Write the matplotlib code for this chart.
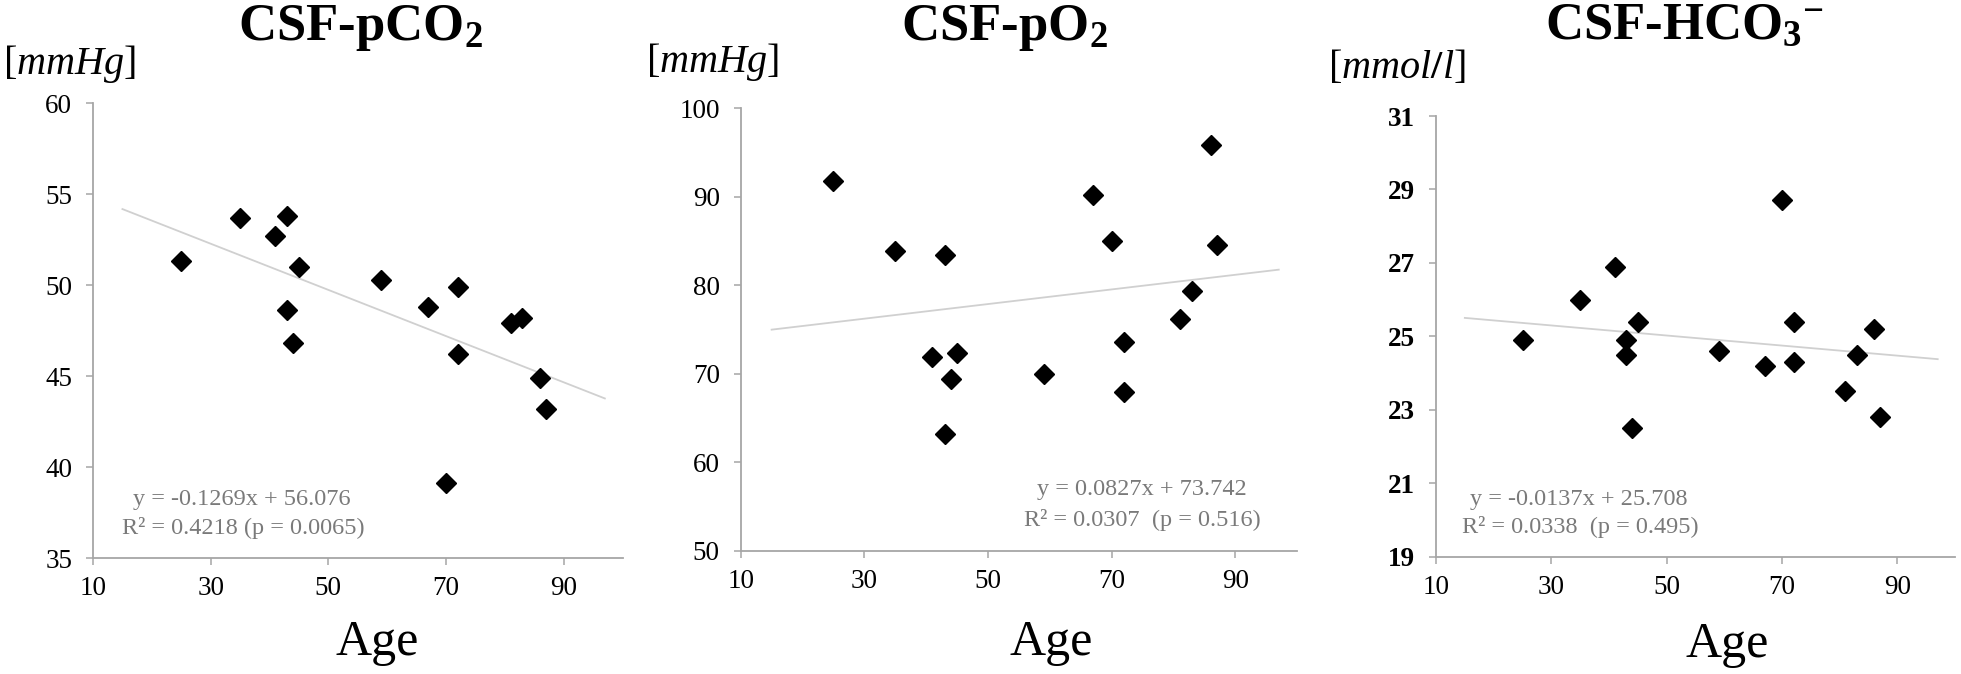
import matplotlib
matplotlib.use('Agg')
import matplotlib.pyplot as plt
import numpy as np

plt.rcParams['font.family'] = ['Liberation Serif', 'DejaVu Serif']
plt.rcParams['mathtext.fontset'] = 'custom'
plt.rcParams['mathtext.rm'] = 'Liberation Serif:bold'
plt.rcParams['mathtext.it'] = 'Liberation Serif:italic'
plt.rcParams['mathtext.bf'] = 'Liberation Serif:bold'

# ---------------- data ----------------
age = [25, 35, 41, 43, 43, 44, 45, 59, 67, 70, 72, 72, 81, 83, 86, 87]
pco2 = [51.3, 53.7, 52.7, 53.8, 48.6, 46.8, 51.0, 50.3, 48.8, 39.1, 49.9, 46.2, 47.9, 48.2, 44.9, 43.2]
po2 = [91.8, 83.9, 71.9, 83.4, 63.2, 69.4, 72.4, 70.0, 90.2, 85.0, 73.6, 67.9, 76.2, 79.4, 95.8, 84.6]
hco3 = [24.9, 26.0, 26.9, 24.9, 24.5, 22.5, 25.4, 24.6, 24.2, 28.7, 25.4, 24.3, 23.5, 24.5, 25.2, 22.8]

titles = ["CSF-pCO$_2$", "CSF-pO$_2$", "CSF-HCO$_3$$^{-}$"]
units = [r"[$\mathit{mmHg}$]", r"[$\mathit{mmHg}$]", r"[$\mathit{mmol/l}$]"]
slopes = [-0.1269, 0.0827, -0.0137]
intercepts = [56.076, 73.742, 25.708]
eq_text = ["y = -0.1269x + 56.076", "y = 0.0827x + 73.742", "y = -0.0137x + 25.708"]
r2_text = ["R\u00b2 = 0.4218 (p = 0.0065)", "R\u00b2 = 0.0307  (p = 0.516)", "R\u00b2 = 0.0338  (p = 0.495)"]
ylims = [(35, 60), (50, 100), (19, 31)]
ysteps = [5, 10, 2]
xticks = [10, 30, 50, 70, 90]
trend_x = [15, 97]

series = [pco2, po2, hco3]

# ---------------- layout ----------------
W, H = 1961, 674
fig = plt.figure(figsize=(W / 100, H / 100), dpi=100)

axes_px = [(93, 103, 622.5, 558), (740.7, 108.3, 1297.3, 550.7), (1436, 116, 1955, 556.7)]
title_px = [(360, 28), (1004, 28), (1685, 26)]
unit_px = [(70, 64), (713, 62), (1397, 68)]
age_px = [(377, 643), (1051, 643), (1727, 645)]
eq_px = [(242, 499), (1142, 490), (1579, 499)]
r2_px = [(243, 528), (1142, 520), (1580, 527)]

spine_c = '#a6a6a6'
txt_c = '#7a7a7a'

def fx(x):
    return x / W

def fy(y):
    return 1 - y / H

for i in range(3):
    l, t, r, b = axes_px[i]
    ax = fig.add_axes([fx(l), fy(b), (r - l) / W, (b - t) / H])
    ax.set_xlim(10, 100)
    ax.set_ylim(*ylims[i])
    ax.set_xticks(xticks)
    ax.set_yticks(np.arange(ylims[i][0], ylims[i][1] + 0.01, ysteps[i]))
    for s in ['top', 'right']:
        ax.spines[s].set_visible(False)
    for s in ['left', 'bottom']:
        ax.spines[s].set_color(spine_c)
        ax.spines[s].set_linewidth(1.3)
    ax.tick_params(direction='out', length=5, width=1.1, color=spine_c, labelsize=19.5)
    ax.tick_params(axis='x', pad=8)
    ax.tick_params(axis='y', pad=10)
    if i == 2:
        for lab in ax.get_yticklabels():
            lab.set_fontweight('bold')

    tx = np.array(trend_x, dtype=float)
    ax.plot(tx, slopes[i] * tx + intercepts[i], color='#d0d0d0', lw=1.3, zorder=1)
    ax.plot(age, series[i], linestyle='none', marker='D', markersize=10.5,
            color='black', zorder=3)

    fig.text(fx(title_px[i][0]), fy(title_px[i][1]), titles[i], fontsize=38,
             fontweight='bold', ha='center', va='center')
    fig.text(fx(unit_px[i][0]), fy(unit_px[i][1]), units[i], fontsize=29,
             ha='center', va='center')
    fig.text(fx(age_px[i][0]), fy(age_px[i][1]), "Age", fontsize=36,
             ha='center', va='center')
    fig.text(fx(eq_px[i][0]), fy(eq_px[i][1]), eq_text[i], fontsize=17.5,
             color=txt_c, ha='center', va='center')
    fig.text(fx(r2_px[i][0]), fy(r2_px[i][1]), r2_text[i], fontsize=17.5,
             color=txt_c, ha='center', va='center')

fig.savefig('out.png', dpi=100)
